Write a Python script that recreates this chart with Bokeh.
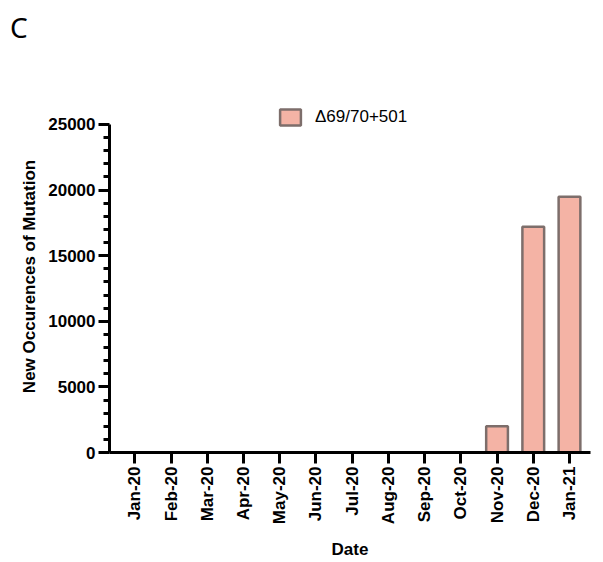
from bokeh.plotting import figure
from bokeh.layouts import column
from bokeh.models import FixedTicker, Range1d, Legend, LegendItem, Div
from bokeh.embed import file_html
from bokeh.resources import INLINE

months = ["Jan-20", "Feb-20", "Mar-20", "Apr-20", "May-20", "Jun-20", "Jul-20",
          "Aug-20", "Sep-20", "Oct-20", "Nov-20", "Dec-20", "Jan-21"]
occurrences = [0, 0, 0, 0, 0, 0, 0, 0, 0, 0, 2000, 17200, 19500]
series_name = "\u039469/70+501"
panel_letter = "C"
y_ticks = [0, 5000, 10000, 15000, 20000, 25000]
y_minor = [v for v in range(1000, 25000, 1000) if v % 5000 != 0]

idx = list(range(len(months)))

FONT = "Liberation Sans"

p = figure(width=603, height=512, output_backend="svg", toolbar_location=None,
           x_range=Range1d(-0.699, 12.58), y_range=Range1d(0, 26829),
           min_border_left=109, min_border_right=13, min_border_top=50, min_border_bottom=110)
p.outline_line_color = None
p.grid.visible = False
p.background_fill_color = "white"

r = p.vbar(x=idx, top=occurrences, width=0.6, fill_color="#F4B3A5",
           line_color="#7d6e6b", line_width=2.5)

# y axis
ya = p.yaxis[0]
ya.ticker = FixedTicker(ticks=y_ticks, minor_ticks=y_minor)
ya.bounds = (0, 25000)
ya.axis_line_width = 3
ya.major_tick_line_width = 3
ya.minor_tick_line_width = 3
ya.major_tick_out = 11
ya.major_tick_in = 0
ya.minor_tick_out = 6
ya.minor_tick_in = 0
ya.major_label_text_font = FONT
ya.major_label_text_font_style = "bold"
ya.major_label_text_font_size = "17px"
ya.major_label_text_color = "black"
ya.major_label_standoff = 3
ya.axis_label = "New Occurences of Mutation"
ya.axis_label_text_font = FONT
ya.axis_label_text_font_style = "bold"
ya.axis_label_text_font_size = "17px"
ya.axis_label_text_color = "black"
ya.axis_label_standoff = 6

# x axis
xa = p.xaxis[0]
xa.ticker = FixedTicker(ticks=idx, minor_ticks=[])
xa.major_label_overrides = {i: m for i, m in zip(idx, months)}
xa.major_label_orientation = 1.5707963
xa.axis_line_width = 3
xa.major_tick_line_width = 3
xa.major_tick_out = 11
xa.major_tick_in = 0
xa.minor_tick_out = 0
xa.minor_tick_in = 0
xa.major_label_text_font = FONT
xa.major_label_text_font_style = "bold"
xa.major_label_text_font_size = "17px"
xa.major_label_text_color = "black"
xa.major_label_standoff = 3
xa.axis_label = "Date"
xa.axis_label_text_font = FONT
xa.axis_label_text_font_style = "bold"
xa.axis_label_text_font_size = "17px"
xa.axis_label_text_color = "black"
xa.axis_label_standoff = 13

legend = Legend(items=[LegendItem(label=series_name, renderers=[r])],
                location=(168, 325), border_line_color=None, background_fill_alpha=0,
                padding=0, margin=0, glyph_width=26, glyph_height=20, label_standoff=12,
                label_text_font=FONT, label_text_font_size="17px", label_text_color="black")
p.add_layout(legend)

letter = Div(text=panel_letter, width=593, height=42, margin=(8, 0, 0, 10),
             styles={"font-family": "Noto Sans", "font-size": "28px",
                     "line-height": "normal", "color": "black"})

layout = column(letter, p, spacing=0)

open("out.html", "w").write(file_html(layout, INLINE))
